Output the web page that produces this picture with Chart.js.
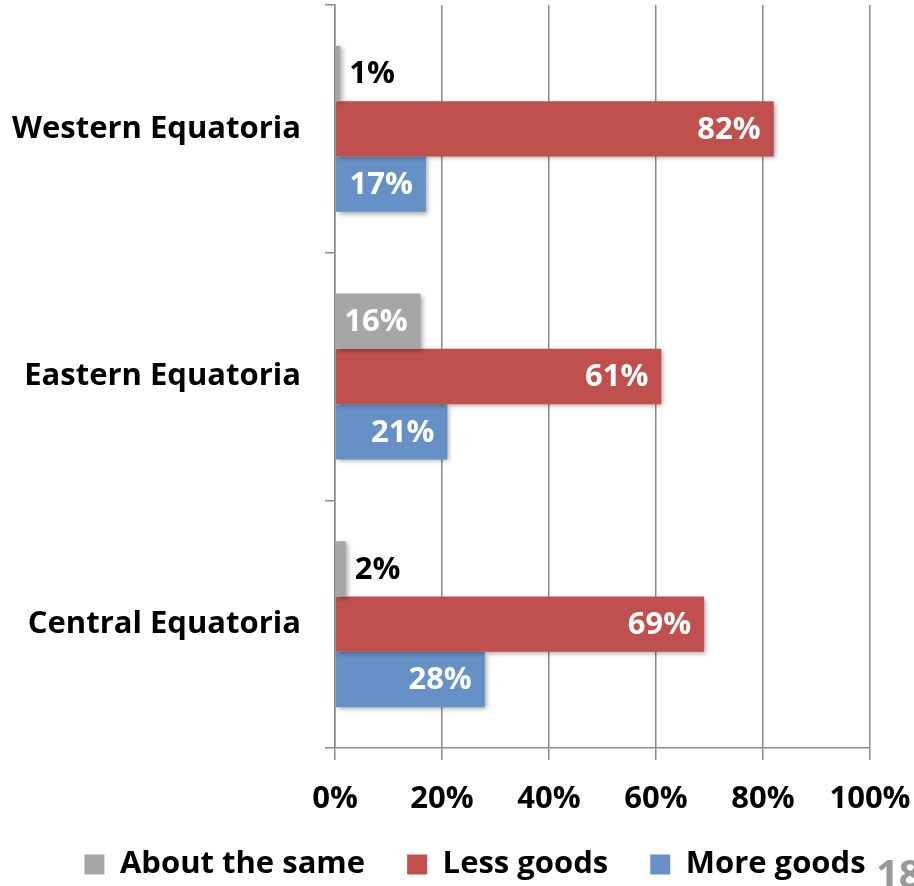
<!DOCTYPE html>
<html>
<head>
<meta charset="utf-8">
<script src="https://cdn.jsdelivr.net/npm/chart.js@4"></script>
<style>
  html, body { margin: 0; padding: 0; background: #fff; overflow: hidden; }
  canvas { display: block; }
</style>
</head>
<body>
<canvas id="chart" width="914" height="886"></canvas>
<script>
const regions = ['Western Equatoria', 'Eastern Equatoria', 'Central Equatoria'];
const aboutSame = [1, 16, 2];
const lessGoods = [82, 61, 69];
const moreGoods = [17, 21, 28];
const xTicks = [0, 20, 40, 60, 80, 100];
const pageNumber = '18';

const FONT = '"Open Sans", "DejaVu Sans", sans-serif';
const axisGray = '#8a8a8a';

// bar value labels: white inside the bar end, black just outside when the bar is too short
const valueLabels = {
  id: 'valueLabels',
  afterDatasetsDraw(chart) {
    const ctx = chart.ctx;
    ctx.save();
    ctx.font = 'bold 31px ' + FONT;
    ctx.textBaseline = 'middle';
    chart.data.datasets.forEach((ds, i) => {
      const meta = chart.getDatasetMeta(i);
      meta.data.forEach((bar, j) => {
        const text = ds.data[j] + '%';
        const w = ctx.measureText(text).width;
        if (bar.x - bar.base > w + 16) {
          ctx.fillStyle = '#fff';
          ctx.textAlign = 'right';
          ctx.fillText(text, bar.x - 13, bar.y + 1);
        } else {
          ctx.fillStyle = '#000';
          ctx.textAlign = 'left';
          ctx.fillText(text, bar.x + 9, bar.y + 1);
        }
      });
    });
    ctx.restore();
  }
};

const barShadow = {
  id: 'barShadow',
  beforeDatasetDraw(chart) {
    const ctx = chart.ctx;
    ctx.save();
    ctx.shadowColor = 'rgba(0,0,0,0.35)';
    ctx.shadowBlur = 5;
    ctx.shadowOffsetX = 2;
    ctx.shadowOffsetY = 2;
  },
  afterDatasetDraw(chart) {
    chart.ctx.restore();
  }
};

const extras = {
  id: 'extras',
  afterLayout(chart) {
    // move the legend row to where it sits on the original slide
    chart.legend.left += 18;
    chart.legend.right += 18;
    chart.legend.top -= 12;
    chart.legend.bottom -= 12;
  },
  afterDraw(chart) {
    const ctx = chart.ctx;
    ctx.save();
    ctx.font = 'bold 40px ' + FONT;
    ctx.fillStyle = '#999';
    ctx.textAlign = 'left';
    ctx.textBaseline = 'alphabetic';
    ctx.fillText(pageNumber, 876, 888);
    ctx.restore();
  }
};

new Chart(document.getElementById('chart'), {
  type: 'bar',
  data: {
    labels: regions,
    datasets: [
      { label: 'About the same', data: aboutSame, backgroundColor: '#a6a6a6', borderWidth: 0 },
      { label: 'Less goods', data: lessGoods, backgroundColor: '#c0504d', borderWidth: 0 },
      { label: 'More goods', data: moreGoods, backgroundColor: '#6591c7', borderWidth: 0 }
    ]
  },
  options: {
    indexAxis: 'y',
    responsive: false,
    animation: false,
    layout: { padding: { top: 5, left: 0, right: 0, bottom: -16 } },
    datasets: { bar: { categoryPercentage: 0.67, barPercentage: 1 } },
    scales: {
      x: {
        min: 0,
        max: 100,
        afterBuildTicks(scale) {
          scale.ticks = xTicks.map(v => ({ value: v }));
        },
        afterFit(scale) {
          scale.height = 71;
          scale.paddingLeft = 0;
          scale.paddingRight = 44;
        },
        ticks: {
          callback: v => v + '%',
          color: '#000',
          font: { family: FONT, size: 31, weight: 'bold' },
          padding: 21,
          maxRotation: 0
        },
        grid: { color: axisGray, lineWidth: 1.5, tickLength: 12 },
        border: { color: axisGray, width: 1.5 }
      },
      y: {
        afterFit(scale) {
          scale.width = 335;
          scale.paddingTop = 0;
          scale.paddingBottom = 0;
        },
        ticks: {
          color: '#000',
          font: { family: FONT, size: 31, weight: 'bold' },
          padding: 24
        },
        grid: { offset: true, drawOnChartArea: false, color: axisGray, lineWidth: 1.5, tickLength: 10 },
        border: { color: axisGray, width: 1.5 }
      }
    },
    plugins: {
      tooltip: { enabled: false },
      legend: {
        position: 'bottom',
        labels: {
          color: '#000',
          font: { family: FONT, size: 31, weight: 'bold' },
          boxWidth: 20,
          boxHeight: 20,
          padding: 42
        }
      }
    }
  },
  plugins: [barShadow, valueLabels, extras]
});
</script>
</body>
</html>
